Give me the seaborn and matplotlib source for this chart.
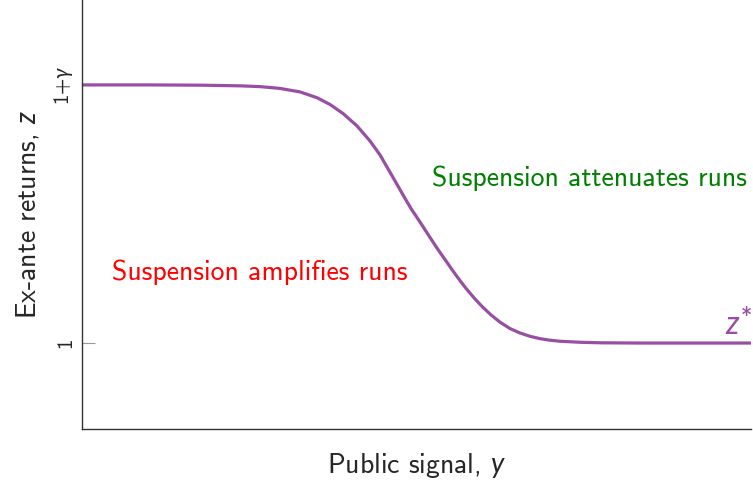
import numpy as np
import pandas as pd
import seaborn as sns
import matplotlib.pyplot as plt

# curve (signal on 0..1, returns with 1+gamma = 2)
signal = [0.0, 0.1016, 0.1764, 0.2362, 0.2661, 0.2960, 0.3259, 0.3513, 0.3707,
          0.3901, 0.4111, 0.4305, 0.4454, 0.4559, 0.4679, 0.4798, 0.4918, 0.5052,
          0.5172, 0.5306, 0.5441, 0.5546, 0.5650, 0.5755, 0.5874, 0.5994, 0.6114,
          0.6248, 0.6398, 0.6547, 0.6697, 0.6846, 0.6996, 0.7145, 0.7444, 0.7743,
          0.8341, 1.0]
returns = [2.0, 2.0, 1.999, 1.9965, 1.9934, 1.9864, 1.9729, 1.9504, 1.9244,
           1.8895, 1.8411, 1.7829, 1.729, 1.682, 1.628, 1.574, 1.521, 1.469,
           1.421, 1.368, 1.318, 1.279, 1.242, 1.207, 1.171, 1.138, 1.109,
           1.081, 1.056, 1.039, 1.026, 1.017, 1.011, 1.007, 1.003, 1.001,
           1.0, 1.0]
ytick_vals = [1.0, 2.0]
ytick_labels = ['1', r'1+$\gamma$']

sns.set_style('white')
plt.rcParams['font.family'] = ['cmss10', 'DejaVu Sans']
plt.rcParams['mathtext.fontset'] = 'custom'
plt.rcParams['mathtext.rm'] = 'cmss10'
plt.rcParams['mathtext.it'] = 'Lato:italic'
plt.rcParams['axes.unicode_minus'] = False

df = pd.DataFrame({'signal': signal, 'returns': returns})

fig = plt.figure(figsize=(7.53, 4.91), dpi=100)
ax = fig.add_axes([82 / 753, 62 / 491, 669 / 753, 429 / 491])
sns.lineplot(data=df, x='signal', y='returns', ax=ax, color='#984ea3', linewidth=2.3)

ax.set_xlim(0, 1)
ax.set_ylim(0.667, 2.329)
ax.set_xticks([])
ax.set_yticks(ytick_vals)
ax.set_yticklabels(ytick_labels, rotation=90, va='center', fontsize=15)
ax.tick_params(axis='y', direction='in', length=9, color='#999999', pad=5, left=True)

for side in ['top', 'right']:
    ax.spines[side].set_visible(False)
for side in ['left', 'bottom']:
    ax.spines[side].set_color('#333333')
    ax.spines[side].set_linewidth(1.0)

ax.set_xlabel(r'Public signal, $y$', fontsize=20, labelpad=16)
ax.set_ylabel(r'Ex-ante returns, $z$', fontsize=20, labelpad=8)

ax.text(0.265, 1.275, 'Suspension amplifies runs', color='#ff0000', fontsize=20,
        ha='center', va='center')
ax.text(0.759, 1.64, 'Suspension attenuates runs', color='#008000', fontsize=20,
        ha='center', va='center')
ax.text(0.981, 1.07, r'$z^{*}$', color='#984ea3', fontsize=23, ha='center', va='center')

fig.savefig('out.png', dpi=100)
